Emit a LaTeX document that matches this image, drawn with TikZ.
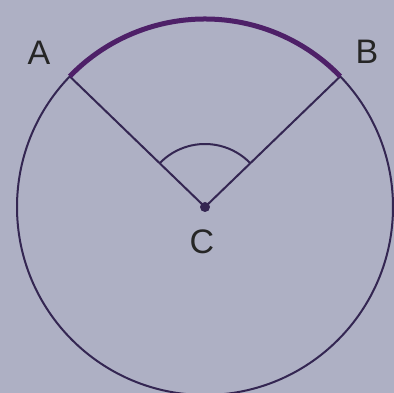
\documentclass[tikz,border=0pt]{standalone}
\usepackage{fontspec}
\setmainfont{Liberation Sans}
\definecolor{paper}{RGB}{174,176,196}
\definecolor{ink}{RGB}{52,38,82}
\definecolor{arcink}{RGB}{78,32,104}
\tikzset{
	thinline/.style={ink, line width=2pt},
	ptlabel/.style={font=\fontsize{34}{40}\selectfont, text=black!85, inner sep=0pt}
}
\begin{document}
\begin{tikzpicture}[x=1pt,y=1pt]
		%Page background
		\fill[paper] (0,0) rectangle (394,393);
		\useasboundingbox (0,0) rectangle (394,393);
		%Centre and the two ends of the arc
		\coordinate (C) at (205,186);
		\path (C) ++(136:188) coordinate (A);
		\path (C) ++(44:188) coordinate (B);
		\draw[thinline] (C) circle (188pt);
		\draw[thinline] (A) -- (C) -- (B);
		\draw[thinline] (C) ++(136:63) arc[start angle=136, end angle=44, radius=63pt];
		\draw[arcink, line width=5pt] (A) arc[start angle=136, end angle=44, radius=188pt];
		\fill[ink] (C) circle (5pt);
		\node[ptlabel] (labA) at (39,340) {A};
		\node[ptlabel] (labB) at (367,341) {B};
		\node[ptlabel] (labC) at (202,151) {C};
		\end{tikzpicture}
\end{document}
